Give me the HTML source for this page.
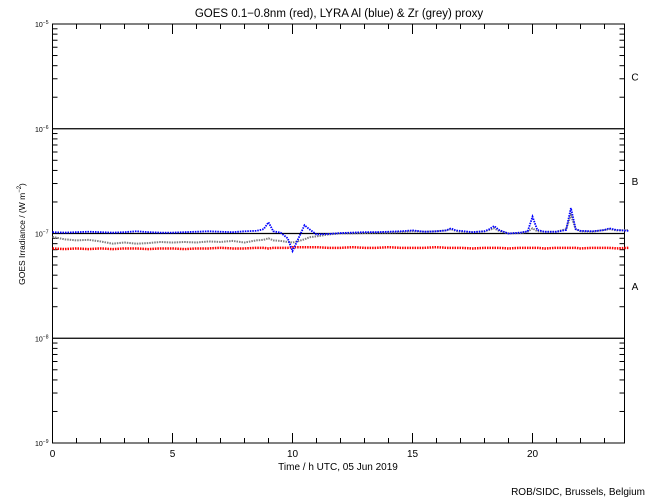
<!DOCTYPE html>
<html><head><meta charset="utf-8"><style>
body{margin:0;background:#fff;}
svg{display:block;font-family:"Liberation Sans",sans-serif;}
</style></head><body>
<svg id="chart" width="650" height="500" xmlns="http://www.w3.org/2000/svg">
<rect width="650" height="500" fill="#fff"/>
<text x="339" y="17" font-size="11.5" text-anchor="middle">GOES 0.1−0.8nm (red), LYRA Al (blue) &amp; Zr (grey) proxy</text>
<text x="338" y="470" font-size="10" text-anchor="middle">Time / h UTC, 05 Jun 2019</text>
<text x="25" y="234" font-size="8.5" text-anchor="middle" transform="rotate(-90 25 234)">GOES Irradiance / (W m<tspan font-size="6" dy="-4">−2</tspan><tspan dy="4">)</tspan></text>
<text x="645" y="495" font-size="10" text-anchor="end">ROB/SIDC, Brussels, Belgium</text>
<g id="axes"></g>
<g id="series"></g>
</svg>
<script>
const hours=[0,0.5,1,1.5,2,2.5,3,3.5,4,4.5,5,5.5,6,6.5,7,7.5,8,8.5,8.8,9,9.2,9.5,9.8,10,10.2,10.5,10.7,11,11.5,12,12.5,13,13.5,14,14.5,15,15.5,16,16.4,16.6,16.8,17,17.5,18,18.2,18.4,18.6,19,19.5,19.8,20,20.2,20.5,21,21.4,21.6,21.8,22,22.5,23,23.2,23.5,24];
const redVals=[7.2,7.1,7.2,7.1,7.2,7.1,7.2,7.2,7.1,7.2,7.2,7.1,7.2,7.2,7.3,7.2,7.2,7.3,7.3,7.2,7.3,7.3,7.3,7.4,7.4,7.4,7.4,7.4,7.3,7.3,7.4,7.3,7.3,7.4,7.3,7.3,7.3,7.4,7.3,7.3,7.3,7.3,7.2,7.3,7.3,7.3,7.3,7.2,7.3,7.3,7.3,7.3,7.2,7.3,7.3,7.3,7.3,7.2,7.3,7.3,7.3,7.2,7.3];
const blueVals=[1.03,1.02,1.03,1.04,1.03,1.02,1.03,1.05,1.03,1.02,1.02,1.03,1.04,1.05,1.04,1.03,1.05,1.06,1.1,1.28,1.05,1.02,0.9,0.68,0.85,1.2,1.1,0.98,0.99,1.01,1.02,1.03,1.03,1.04,1.05,1.07,1.04,1.05,1.07,1.12,1.07,1.06,1.03,1.05,1.1,1.18,1.08,1.0,1.02,1.05,1.45,1.08,1.04,1.04,1.08,1.75,1.1,1.06,1.05,1.08,1.12,1.08,1.06];
const greyVals=[0.93,0.88,0.86,0.87,0.84,0.80,0.82,0.80,0.81,0.83,0.82,0.83,0.82,0.84,0.83,0.85,0.82,0.86,0.87,0.9,0.86,0.85,0.83,0.82,0.84,0.88,0.92,0.94,0.98,1.0,1.0,1.01,1.02,1.02,1.03,1.05,1.04,1.05,1.07,1.1,1.06,1.04,1.03,1.05,1.08,1.12,1.06,1.0,1.01,1.04,1.12,1.05,1.04,1.04,1.1,1.5,1.1,1.05,1.04,1.08,1.1,1.07,1.08];
const xTicks=[0,5,10,15,20];
const yDecades=[-5,-6,-7,-8,-9];
const classLabels=["C","B","A"];
const NS="http://www.w3.org/2000/svg";
const X0=52.5,X1=624.5,Y0=24,DEC=104.75;
function xs(h){return X0+h*24;}
function ys(v){return Y0+(-5-Math.log10(v))*DEC;}
const ax=document.getElementById('axes'),sg=document.getElementById('series');
function mk(tag,at,p){const e=document.createElementNS(NS,tag);for(const k in at)e.setAttribute(k,at[k]);p.appendChild(e);return e;}
const frame=mk('rect',{x:X0,y:Y0,width:X1-X0,height:4*DEC,fill:'none',stroke:'#000','stroke-width':1},ax);


yDecades.forEach((d,i)=>{
  const y=ys(Math.pow(10,d));
  if(i>0&&i<4){const l=mk('line',{x1:X0,x2:X1,y1:y,y2:y,stroke:'#000','stroke-width':1.2},ax);
    
    }
  const t=mk('text',{x:X0-4,y:y+3,'font-size':7,'text-anchor':'end'},ax);
  
  
  t.innerHTML='10<tspan font-size="5" dy="-3">'+(d<0?'−':'')+Math.abs(d)+'</tspan>';
  if(i<4){for(let m=2;m<=9;m++){const yy=ys(m*Math.pow(10,d-1));
    mk('line',{x1:X0,x2:X0+5,y1:yy,y2:yy,stroke:'#000'},ax);
    mk('line',{x1:X1,x2:X1-5,y1:yy,y2:yy,stroke:'#000'},ax);}}
});
classLabels.forEach((c,i)=>{const t=mk('text',{x:635,y:ys(Math.pow(10,-5-i-0.5))+4,'font-size':10,'text-anchor':'middle'},ax);
  
  
  t.textContent=c;});
for(let h=0;h<=23;h++){const x=xs(h);const L=(h%5===0)?10:5;
  mk('line',{x1:x,x2:x,y1:Y0+4*DEC,y2:Y0+4*DEC-L,stroke:'#000'},ax);
  mk('line',{x1:x,x2:x,y1:Y0,y2:Y0+L,stroke:'#000'},ax);}
xTicks.forEach(h=>{const t=mk('text',{x:xs(h),y:457,'font-size':10,'text-anchor':'middle'},ax);
  
  
  t.textContent=h;});
function series(vals,scale,color,name,w){
  const pts=hours.map((h,i)=>xs(h)+','+ys(vals[i]*scale)).join(' ');
  const p=mk('polyline',{points:pts,fill:'none',stroke:color,'stroke-width':w,'stroke-dasharray':'1.5 1'},sg);
  
  
}
series(greyVals,1e-7,'#808080','zr-grey-series',2);
series(redVals,1e-8,'#ff0000','goes-red-series',2.5);
series(blueVals,1e-7,'#0000ff','al-blue-series',1.8);
</script>
</body></html>
